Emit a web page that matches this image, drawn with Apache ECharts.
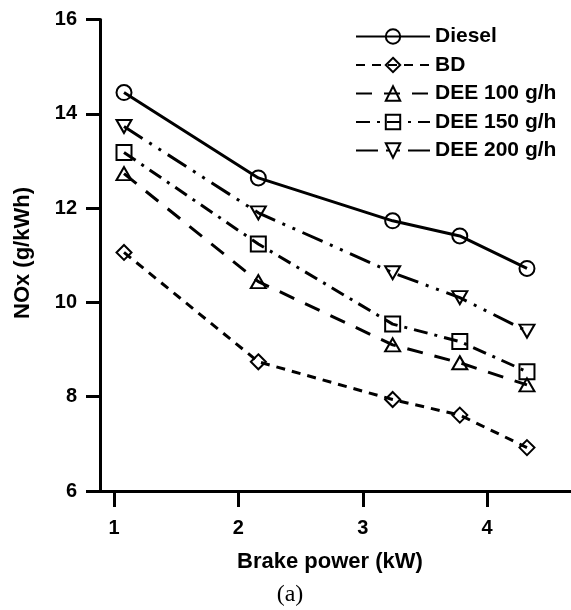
<!DOCTYPE html>
<html>
<head>
<meta charset="utf-8">
<script src="https://cdn.jsdelivr.net/npm/echarts@6/dist/echarts.min.js"></script>
<style>
html,body{margin:0;padding:0;background:#fff;}
#chart{width:571px;height:610px;}
</style>
</head>
<body>
<div id="chart"></div>
<script>
const power = [1.08, 2.16, 3.24, 3.78, 4.32];
const diesel = [14.45, 12.64, 11.73, 11.41, 10.72];
const bd = [11.06, 8.74, 7.94, 7.61, 6.92];
const dee100 = [12.73, 10.44, 9.10, 8.72, 8.25];
const dee150 = [13.18, 11.24, 9.54, 9.17, 8.53];
const dee200 = [13.73, 11.90, 10.63, 10.10, 9.39];
const xTicks = [1, 2, 3, 4];
const seriesNames = ['Diesel', 'BD', 'DEE 100 g/h', 'DEE 150 g/h', 'DEE 200 g/h'];

const FONT = "'Liberation Sans', Arial, sans-serif";
const pairs = arr => power.map((x, i) => [x, arr[i]]);

function mk(name, data, symbol, size, dash, rotate) {
  return {
    name: name,
    type: 'line',
    data: pairs(data),
    symbol: symbol,
    symbolSize: size,
    symbolRotate: rotate || 0,
    showAllSymbol: true,
    z: 3,
    lineStyle: { color: '#000', width: 3, type: dash, cap: 'butt' },
    itemStyle: { color: 'rgba(255,255,255,0)', borderColor: '#000', borderWidth: 2 },
    emphasis: { disabled: true },
    animation: false
  };
}

const chart = echarts.init(document.getElementById('chart'), null, { renderer: 'canvas' });
chart.setOption({
  backgroundColor: '#fff',
  animation: false,
  grid: { left: 100, right: 0, top: 19.5, bottom: 119, containLabel: false },
  legend: {
    orient: 'vertical',
    left: 355,
    top: 26,
    padding: 0,
    itemWidth: 74,
    itemHeight: 18,
    itemGap: 7.5,
    data: seriesNames,
    textStyle: { fontFamily: FONT, fontWeight: 'bold', fontSize: 21, color: '#000' }
  },
  xAxis: {
    type: 'value',
    min: 0.887,
    max: 4.674,
    axisLine: { lineStyle: { color: '#000', width: 3 } },
    axisTick: { show: true, length: 16, lineStyle: { color: '#000', width: 3 }, customValues: xTicks },
    axisLabel: { customValues: xTicks, margin: 27, fontFamily: FONT, fontWeight: 'bold', fontSize: 20, color: '#000' },
    splitLine: { show: false }
  },
  yAxis: {
    type: 'value',
    min: 6,
    max: 16,
    interval: 2,
    axisLine: { show: true, lineStyle: { color: '#000', width: 3 } },
    axisTick: { show: true, length: 14, lineStyle: { color: '#000', width: 3 } },
    axisLabel: { margin: 23, fontFamily: FONT, fontWeight: 'bold', fontSize: 20, color: '#000' },
    splitLine: { show: false }
  },
  graphic: [
    { type: 'text', style: { text: 'Brake power (kW)', x: 330, y: 562, align: 'center', verticalAlign: 'middle', fontFamily: FONT, fontWeight: 'bold', fontSize: 22, fill: '#000' } },
    { type: 'text', x: 22.5, y: 253, rotation: Math.PI / 2, style: { text: 'NOx (g/kWh)', x: 0, y: 0, align: 'center', verticalAlign: 'middle', fontFamily: FONT, fontWeight: 'bold', fontSize: 22, fill: '#000' } },
    { type: 'text', style: { text: '(a)', x: 290, y: 595, align: 'center', verticalAlign: 'middle', fontFamily: "'Liberation Serif', 'Times New Roman', serif", fontSize: 24, fill: '#000' } }
  ],
  series: [
    mk(seriesNames[0], diesel, 'circle', 15, 'solid'),
    mk(seriesNames[1], bd, 'diamond', 15, [9, 7]),
    mk(seriesNames[2], dee100, 'triangle', [15, 13], [16, 12]),
    mk(seriesNames[3], dee150, 'rect', 15, [14, 7, 3, 7]),
    mk(seriesNames[4], dee200, 'triangle', [15, 13], [22, 8, 3, 8, 3, 8], 180)
  ]
});
</script>
</body>
</html>
